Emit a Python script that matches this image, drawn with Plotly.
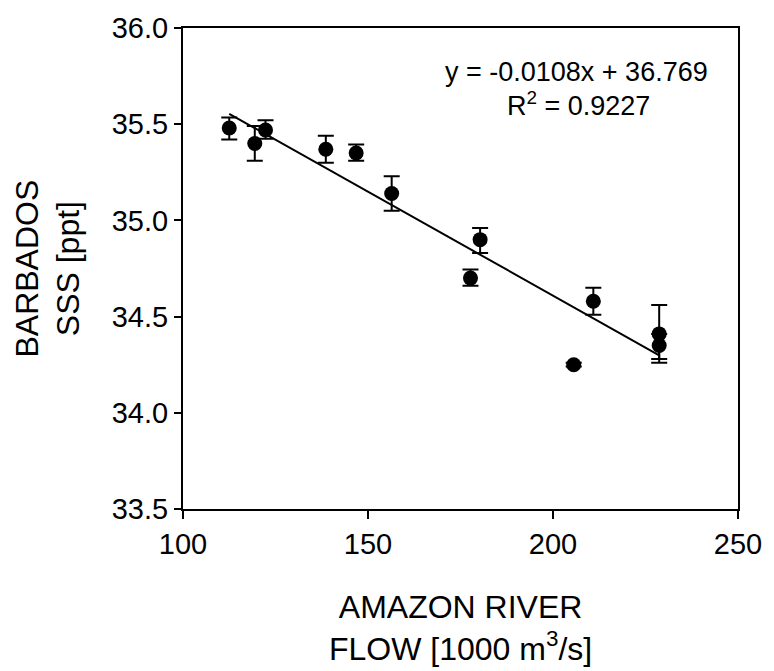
import plotly.graph_objects as go

# Data
flow = [112.5, 119.4, 122.3, 138.6, 146.8, 156.4, 177.7, 180.3, 205.6, 210.9, 228.7, 228.7]
sss = [35.48, 35.40, 35.47, 35.37, 35.35, 35.14, 34.70, 34.90, 34.25, 34.58, 34.41, 34.35]
err_plus = [0.055, 0.09, 0.05, 0.07, 0.045, 0.09, 0.045, 0.06, 0.01, 0.07, 0.15, 0.06]
err_minus = [0.06, 0.09, 0.045, 0.07, 0.04, 0.09, 0.04, 0.07, 0.01, 0.07, 0.15, 0.07]

slope = -0.0108
intercept = 36.769
fit_x = [min(flow), max(flow)]
fit_y = [slope * v + intercept for v in fit_x]

x_ticks = [100, 150, 200, 250]
y_ticks = [33.5, 34.0, 34.5, 35.0, 35.5, 36.0]

FONT = "Liberation Sans, Arial, Helvetica, sans-serif"

fig = go.Figure()
fig.add_trace(go.Scatter(
    x=fit_x, y=fit_y, mode="lines",
    line=dict(color="black", width=2), showlegend=False, hoverinfo="skip"))
fig.add_trace(go.Scatter(
    x=flow, y=sss, mode="markers",
    marker=dict(color="black", size=15, symbol="circle"),
    error_y=dict(type="data", symmetric=False, array=err_plus, arrayminus=err_minus,
                 color="black", thickness=2, width=8),
    showlegend=False))

fig.update_layout(
    width=774, height=671,
    margin=dict(l=183, r=27, t=17, b=162),
    paper_bgcolor="white", plot_bgcolor="white",
    font=dict(family=FONT, color="black", size=27),
    xaxis=dict(range=[100, 250], tickvals=x_ticks, ticks="outside", ticklen=8,
               tickwidth=2, tickcolor="black", showline=True, linewidth=2,
               linecolor="black", mirror=True, showgrid=False, zeroline=False,
               tickfont=dict(size=29, family=FONT)),
    yaxis=dict(range=[33.5, 36.0], tickvals=y_ticks, tickformat=".1f", ticks="outside",
               ticklen=7, tickwidth=2, tickcolor="black", showline=True, linewidth=2,
               linecolor="black", mirror=True, showgrid=False, zeroline=False,
               tickfont=dict(size=29, family=FONT)),
    annotations=[
        dict(text="y = -0.0108x + 36.769", x=100 + (583 - 183) / 3.76,
             y=36 - (62 - 17) / 196.8, xref="x", yref="y",
             showarrow=False, font=dict(size=27, family=FONT), xanchor="center", yanchor="middle"),
        dict(text="R<sup>2</sup> = 0.9227", x=100 + (585 - 183) / 3.76,
             y=36 - (95 - 17) / 196.8, xref="x", yref="y", showarrow=False,
             font=dict(size=27, family=FONT), xanchor="center", yanchor="middle"),
        dict(text="AMAZON RIVER<br>FLOW [1000 m<sup>3</sup>/s]", x=0.5, y=-0.163,
             xref="paper", yref="paper", showarrow=False, align="center",
             font=dict(size=32, family=FONT), xanchor="center", yanchor="top"),
        dict(text="BARBADOS<br>SSS [ppt]", x=-0.245, y=0.5, xref="paper", yref="paper",
             showarrow=False, textangle=-90, align="center",
             font=dict(size=32, family=FONT), xanchor="center", yanchor="middle"),
    ],
)

fig.write_html("out.html")
